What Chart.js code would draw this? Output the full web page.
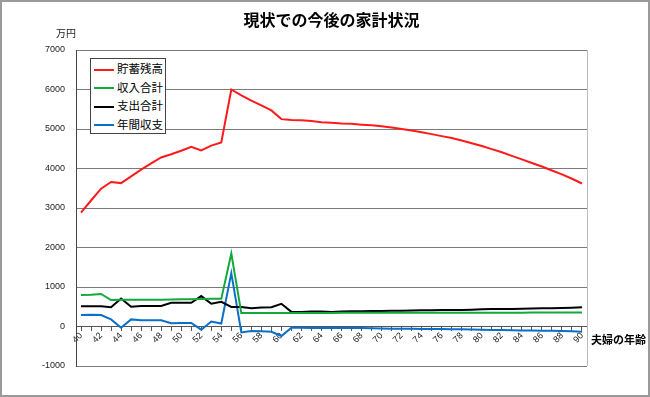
<!DOCTYPE html>
<html>
<head>
<meta charset="utf-8">
<script src="https://cdn.jsdelivr.net/npm/chart.js@4.4.1/dist/chart.umd.min.js"></script>
<style>
    body { margin: 0; background: #fff; }
    #wrap { position: relative; width: 650px; height: 397px; }
    #legend {
        position: absolute; left: 90px; top: 58px; width: 76px; height: 76px;
        box-sizing: border-box; border: 1px solid #444; background: #fff;
        font-family: "Noto Sans CJK JP", sans-serif; font-size: 11.5px; color: #000;
    }
    #legend .row { position: absolute; left: 3px; height: 14px; line-height: 14px; white-space: nowrap; }
    #legend .swatch { display: inline-block; width: 20px; height: 2px; vertical-align: middle; margin-right: 3px; }
</style>
</head>
<body>
<div id="wrap">
    <canvas id="kakeiChart" width="650" height="397"></canvas>
    <div id="legend"></div>
</div>
<script>
const ages = [40, 41, 42, 43, 44, 45, 46, 47, 48, 49, 50, 51, 52, 53, 54, 55, 56, 57, 58, 59,
              60, 61, 62, 63, 64, 65, 66, 67, 68, 69, 70, 71, 72, 73, 74, 75, 76, 77, 78, 79,
              80, 81, 82, 83, 84, 85, 86, 87, 88, 89, 90];

// 貯蓄残高
const savings = [2880, 3190, 3490, 3660, 3630, 3800, 3970, 4130, 4280, 4360,
                 4450, 4550, 4460, 4580, 4660, 6000, 5850, 5720, 5600, 5470,
                 5250, 5230, 5220, 5200, 5170, 5160, 5140, 5130, 5110, 5095,
                 5070, 5040, 5000, 4960, 4920, 4870, 4820, 4770, 4710, 4640,
                 4570, 4490, 4410, 4320, 4230, 4140, 4050, 3950, 3850, 3740, 3620];

// 収入合計
const income = [800, 805, 825, 670, 680, 680, 680, 680, 680, 685,
                690, 690, 695, 700, 700, 1850, 340, 340, 340, 340,
                340, 340, 340, 340, 340, 340, 345, 345, 345, 345,
                345, 345, 345, 345, 345, 345, 350, 350, 350, 350,
                350, 350, 350, 350, 350, 355, 355, 355, 355, 355, 355];

// 支出合計
const expense = [510, 510, 510, 490, 710, 500, 520, 520, 520, 600,
                 600, 600, 770, 575, 625, 495, 495, 460, 480, 490,
                 575, 370, 370, 380, 380, 370, 380, 385, 385, 390,
                 395, 400, 400, 405, 410, 410, 415, 420, 420, 425,
                 435, 440, 440, 445, 450, 455, 460, 465, 470, 475, 485];

// 年間収支
const balance = [290, 295, 290, 180, -30, 180, 160, 160, 160, 85,
                 90, 90, -80, 125, 75, 1350, -150, -115, -120, -135,
                 -240, -30, -30, -40, -40, -30, -35, -40, -40, -45,
                 -50, -55, -55, -60, -65, -65, -65, -70, -70, -75,
                 -85, -90, -90, -95, -100, -100, -105, -110, -115, -120, -130];

const seriesNames = ['貯蓄残高', '収入合計', '支出合計', '年間収支'];
const seriesColors = ['#ff1a1a', '#12a83c', '#000000', '#0a6fc8'];
const yTicks = [-1000, 0, 1000, 2000, 3000, 4000, 5000, 6000, 7000];

const jpFont = '"Noto Sans CJK JP", sans-serif';

// frame, title and extra labels
const framePlugin = {
    id: 'frame',
    beforeDatasetsDraw(chart) {
        const { ctx, chartArea: a } = chart;
        ctx.save();
        ctx.strokeStyle = '#bdbdbd';
        ctx.lineWidth = 1;
        ctx.beginPath();
        ctx.moveTo(Math.round(a.right) + 0.5, a.top);
        ctx.lineTo(Math.round(a.right) + 0.5, a.bottom);
        ctx.stroke();
        ctx.restore();
    },
    afterDraw(chart) {
        const { ctx, chartArea: a, scales } = chart;
        ctx.save();
        ctx.strokeStyle = '#9a9a9a';
        ctx.lineWidth = 2;
        ctx.strokeRect(1, 1, chart.width - 2, chart.height - 2);

        ctx.fillStyle = '#000';
        ctx.font = 'bold 16px ' + jpFont;
        ctx.textAlign = 'center';
        ctx.textBaseline = 'middle';
        ctx.fillText('現状での今後の家計状況', (a.left + a.right) / 2, 20);

        ctx.fillStyle = '#222';
        ctx.font = '10px ' + jpFont;
        ctx.fillText('万円', 66, 33);

        ctx.fillStyle = '#000';
        ctx.font = 'bold 11px ' + jpFont;
        ctx.textAlign = 'left';
        ctx.fillText('夫婦の年齢', a.right + 4, scales.y.getPixelForValue(0) + 13);
        ctx.restore();
    }
};

const datasets = [savings, income, expense, balance].map((vals, i) => ({
    label: seriesNames[i],
    data: vals,
    borderColor: seriesColors[i],
    backgroundColor: seriesColors[i],
    borderWidth: 2,
    pointRadius: 0,
    tension: 0
}));

const kakeiCtx = document.getElementById('kakeiChart').getContext('2d');
new Chart(kakeiCtx, {
    type: 'line',
    data: { labels: ages, datasets: datasets },
    options: {
        responsive: false,
        animation: false,
        layout: { padding: { top: 50, left: 0, right: 63, bottom: 31 } },
        plugins: {
            legend: { display: false },
            tooltip: { enabled: false },
            title: { display: false }
        },
        scales: {
            x: {
                position: { y: 0 },
                offset: true,
                grid: { drawOnChartArea: false, drawTicks: true, tickLength: 4, color: '#555' },
                border: { display: true, color: '#555' },
                ticks: {
                    autoSkip: false,
                    minRotation: 45,
                    maxRotation: 45,
                    padding: 0,
                    color: '#222',
                    font: { family: 'Liberation Sans', size: 9 },
                    callback: function (v, i) { return ages[i] % 2 === 0 ? String(ages[i]) : ''; }
                }
            },
            y: {
                min: -1000,
                max: 7000,
                afterBuildTicks: s => { s.ticks = yTicks.map(v => ({ value: v })); },
                afterFit: s => { s.width = 76; },
                grid: { color: '#7a7a7a', drawTicks: false },
                border: { display: true, color: '#444' },
                ticks: {
                    padding: 11,
                    color: '#222',
                    font: { family: 'Liberation Sans', size: 9 },
                    callback: v => String(v)
                }
            }
        }
    },
    plugins: [framePlugin]
});

// legend inside plot area
const legendBox = document.getElementById('legend');
seriesNames.forEach((name, i) => {
    const row = document.createElement('div');
    row.className = 'row';
    row.style.top = (2 + i * 18.5) + 'px';
    row.innerHTML = '<span class="swatch" style="background:' + seriesColors[i] + '"></span>' + name;
    legendBox.appendChild(row);
});
</script>
</body>
</html>
